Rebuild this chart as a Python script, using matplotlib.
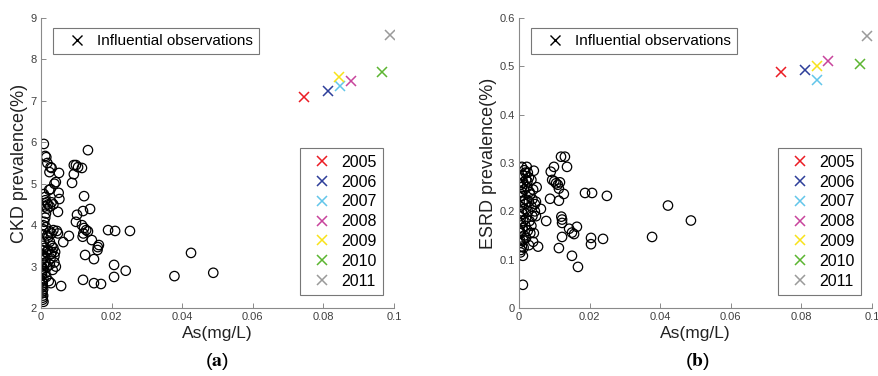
import matplotlib
matplotlib.use("Agg")
import matplotlib.pyplot as plt
from matplotlib.lines import Line2D

plt.rcParams['font.family'] = ['Liberation Sans', 'DejaVu Sans']
plt.rcParams['mathtext.fontset'] = 'stix'

# ---------------- data ----------------
years = ['2005', '2006', '2007', '2008', '2009', '2010', '2011']
year_colors = ['#ec1c24', '#2e3f9a', '#62c6ea', '#c8449c', '#f8e21a', '#5cb531', '#9a9a9a']

# influential observations (As, prevalence)
infl_as_ckd = [0.0745, 0.0812, 0.0847, 0.0878, 0.0845, 0.0966, 0.0989]
infl_ckd = [7.09, 7.23, 7.36, 7.48, 7.58, 7.69, 8.59]
infl_as_esrd = [0.0742, 0.0810, 0.0845, 0.0875, 0.0845, 0.0966, 0.0986]
infl_esrd = [0.488, 0.492, 0.472, 0.510, 0.501, 0.504, 0.563]

# CKD panel regular observations
ckd_as = [0.0008, 0.0012, 0.0015, 0.0018, 0.0027, 0.0030, 0.0024, 0.0051, 0.0042, 0.0038,
          0.0027, 0.0023, 0.0050, 0.0052, 0.0008, 0.0012, 0.0012, 0.0016, 0.0020, 0.0025,
          0.0030, 0.0035, 0.0010, 0.0018, 0.0048, 0.0014, 0.0012, 0.0009, 0.0006, 0.0014,
          0.0003, 0.0025, 0.0030, 0.0035, 0.0045, 0.0048, 0.0079, 0.0063, 0.0020, 0.0025,
          0.0030, 0.0035, 0.0020, 0.0040, 0.0038, 0.0028, 0.0015, 0.0010, 0.0005, 0.0003,
          0.0007, 0.0012, 0.0018, 0.0025, 0.0033, 0.0042, 0.0038, 0.0005, 0.0003, 0.0007,
          0.0012, 0.0005, 0.0015, 0.0022, 0.0028, 0.0057, 0.0003, 0.0004, 0.0006, 0.0005,
          0.0007, 0.0002, 0.0003, 0.0002, 0.0004, 0.0009, 0.0006, 0.0018, 0.0027, 0.0031,
          0.0004, 0.0006, 0.0003, 0.0005, 0.0008, 0.0004, 0.0010, 0.0002,
          0.0093, 0.0099, 0.0105, 0.0116, 0.0093, 0.0088, 0.0133, 0.0122, 0.0119, 0.0139,
          0.0102, 0.0099, 0.0116, 0.0122, 0.0128, 0.0133, 0.0120, 0.0118, 0.0144, 0.0161,
          0.0164, 0.0160, 0.0125, 0.0150, 0.0119, 0.0150, 0.0170, 0.0190, 0.0210, 0.0252,
          0.0207, 0.0207, 0.0240, 0.0378, 0.0425, 0.0488]
ckd_val = [5.96, 5.67, 5.64, 5.50, 5.40, 5.38, 5.28, 5.26, 5.04, 5.00,
           4.87, 4.85, 4.78, 4.63, 4.75, 4.68, 4.60, 4.55, 4.50, 4.45,
           4.55, 4.50, 4.45, 4.40, 4.32, 4.28, 4.18, 4.08, 4.00, 3.95,
           3.78, 3.85, 3.80, 3.88, 3.86, 3.80, 3.74, 3.59, 3.70, 3.60,
           3.50, 3.45, 3.40, 3.35, 3.25, 3.30, 3.35, 3.45, 3.50, 3.30,
           3.20, 3.10, 3.00, 3.05, 2.92, 3.00, 3.10, 2.95, 2.80, 2.70,
           2.85, 2.60, 2.75, 2.65, 2.60, 2.53, 2.50, 2.40, 2.30, 2.20,
           2.15, 2.35, 3.00, 3.15, 2.90, 3.60, 3.90, 3.75, 3.20, 3.35,
           2.55, 2.45, 2.65, 2.25, 3.05, 3.40, 3.25, 2.85,
           5.45, 5.45, 5.40, 5.38, 5.23, 5.02, 5.81, 4.70, 4.34, 4.39,
           4.25, 4.08, 4.00, 3.93, 3.88, 3.85, 3.80, 3.72, 3.64, 3.47,
           3.52, 3.40, 3.28, 3.18, 2.68, 2.60, 2.58, 3.88, 3.86, 3.86,
           3.04, 2.75, 2.90, 2.77, 3.33, 2.85]

# ESRD panel regular observations
esrd_as = [0.0011, 0.0011, 0.0005, 0.0008, 0.0003, 0.0012, 0.0015, 0.0005, 0.0002, 0.0010,
           0.0018, 0.0025, 0.0032, 0.0042, 0.0040, 0.0054, 0.0005, 0.0012, 0.0020, 0.0030,
           0.0038, 0.0048, 0.0003, 0.0008, 0.0015, 0.0025, 0.0035, 0.0045, 0.0062, 0.0077,
           0.0003, 0.0010, 0.0018, 0.0028, 0.0038, 0.0048, 0.0002, 0.0008, 0.0015, 0.0022,
           0.0030, 0.0040, 0.0050, 0.0005, 0.0012, 0.0020, 0.0028, 0.0035, 0.0005, 0.0010,
           0.0018, 0.0025, 0.0042, 0.0008, 0.0022, 0.0015, 0.0003, 0.0020, 0.0028, 0.0035,
           0.0045, 0.0010, 0.0018, 0.0032, 0.0008, 0.0088, 0.0004, 0.0013, 0.0006, 0.0024,
           0.0090, 0.0099, 0.0119, 0.0130, 0.0136, 0.0094, 0.0100, 0.0105, 0.0110, 0.0116,
           0.0113, 0.0127, 0.0113, 0.0120, 0.0122, 0.0122, 0.0122, 0.0113, 0.0142, 0.0150,
           0.0156, 0.0164, 0.0150, 0.0167, 0.0187, 0.0207, 0.0249, 0.0204, 0.0204, 0.0238,
           0.0377, 0.0422, 0.0487]
esrd_val = [0.048, 0.108, 0.120, 0.127, 0.135, 0.140, 0.150, 0.155, 0.160, 0.165,
            0.170, 0.160, 0.155, 0.155, 0.137, 0.127, 0.175, 0.180, 0.185, 0.180,
            0.190, 0.190, 0.190, 0.200, 0.205, 0.200, 0.210, 0.215, 0.205, 0.180,
            0.210, 0.220, 0.225, 0.220, 0.225, 0.220, 0.230, 0.240, 0.245, 0.250,
            0.240, 0.245, 0.250, 0.255, 0.260, 0.265, 0.270, 0.265, 0.270, 0.275,
            0.280, 0.280, 0.284, 0.292, 0.292, 0.285, 0.140, 0.145, 0.130, 0.170,
            0.200, 0.195, 0.215, 0.235, 0.250, 0.226, 0.115, 0.125, 0.232, 0.262,
            0.282, 0.292, 0.313, 0.313, 0.292, 0.265, 0.262, 0.258, 0.255, 0.260,
            0.247, 0.236, 0.222, 0.189, 0.183, 0.176, 0.147, 0.124, 0.164, 0.156,
            0.153, 0.168, 0.108, 0.085, 0.238, 0.238, 0.232, 0.145, 0.132, 0.143,
            0.147, 0.212, 0.181]

x_ticks = [0, 0.02, 0.04, 0.06, 0.08, 0.1]
x_tick_labels = ['0', '0.02', '0.04', '0.06', '0.08', '0.1']
ckd_ticks = [2, 3, 4, 5, 6, 7, 8, 9]
esrd_ticks = [0, 0.1, 0.2, 0.3, 0.4, 0.5, 0.6]
esrd_tick_labels = ['0', '0.1', '0.2', '0.3', '0.4', '0.5', '0.6']

# ---------------- figure ----------------
W, H = 879, 376
fig = plt.figure(figsize=(W / 100, H / 100), dpi=100)

def make_axes(px_left, px_top, px_right, px_bottom):
    return fig.add_axes([px_left / W, 1 - px_bottom / H,
                         (px_right - px_left) / W, (px_bottom - px_top) / H])

axL = make_axes(41, 18, 394, 308)
axR = make_axes(519, 18, 872, 308)

spine_col = '#8a8a8a'
tick_col = '#404040'

def style(ax, xs, ys, ylim, yticks, ylabels, ylabel):
    ax.scatter(xs, ys, s=46, facecolors='none', edgecolors='black', linewidths=0.9, zorder=2)
    ax.set_xlim(0, 0.1)
    ax.set_ylim(*ylim)
    ax.set_xticks(x_ticks)
    ax.set_xticklabels(x_tick_labels)
    ax.set_yticks(yticks)
    ax.set_yticklabels(ylabels)
    for s in ['top', 'right']:
        ax.spines[s].set_visible(False)
    for s in ['left', 'bottom']:
        ax.spines[s].set_color(spine_col)
        ax.spines[s].set_linewidth(0.8)
    ax.tick_params(direction='in', length=3.5, width=0.7, color=spine_col,
                   labelsize=8, labelcolor=tick_col, pad=3)
    ax.set_xlabel('As(mg/L)', fontsize=12.5, color='#222222', labelpad=3)
    ax.set_ylabel(ylabel, fontsize=13, color='#222222', labelpad=2)

style(axL, ckd_as, ckd_val, (2, 9), ckd_ticks, [str(t) for t in ckd_ticks],
      'CKD prevalence(%)')
style(axR, esrd_as, esrd_val, (0, 0.6), esrd_ticks, esrd_tick_labels,
      'ESRD prevalence(%)')

for ax, xs, ys in [(axL, infl_as_ckd, infl_ckd), (axR, infl_as_esrd, infl_esrd)]:
    handles = []
    for xv, yv, c, lab in zip(xs, ys, year_colors, years):
        h, = ax.plot([xv], [yv], linestyle='none', marker='x', markersize=7.5,
                     markeredgewidth=1.1, color=c, label=lab, zorder=3)
        handles.append(h)
    leg_years = ax.legend(handles=handles, loc='lower right',
                          bbox_to_anchor=(0.969, 0.045), fontsize=11.5,
                          frameon=True, fancybox=False, edgecolor='#555555',
                          handlelength=2.0, handletextpad=0.2, labelspacing=0.3,
                          borderpad=0.4, borderaxespad=0.0)
    leg_years.get_frame().set_linewidth(0.8)
    ax.add_artist(leg_years)
    proxy = Line2D([], [], linestyle='none', marker='x', markersize=7,
                   markeredgewidth=1.0, color='black')
    leg_infl = ax.legend([proxy], ['Influential observations'], loc='upper left',
                         bbox_to_anchor=(0.034, 0.966), fontsize=11,
                         frameon=True, fancybox=False, edgecolor='#555555',
                         handlelength=2.4, handletextpad=0.1, borderpad=0.4,
                         borderaxespad=0.0)
    leg_infl.get_frame().set_linewidth(0.8)

# panel captions
for xc, letter in [(217, 'a'), (697, 'b')]:
    fig.text(xc / W, 1 - 362 / H, r'($\mathbf{' + letter + r'}$)', ha='center', va='center',
             fontsize=14, color='black')

fig.savefig('out.png', dpi=100)
